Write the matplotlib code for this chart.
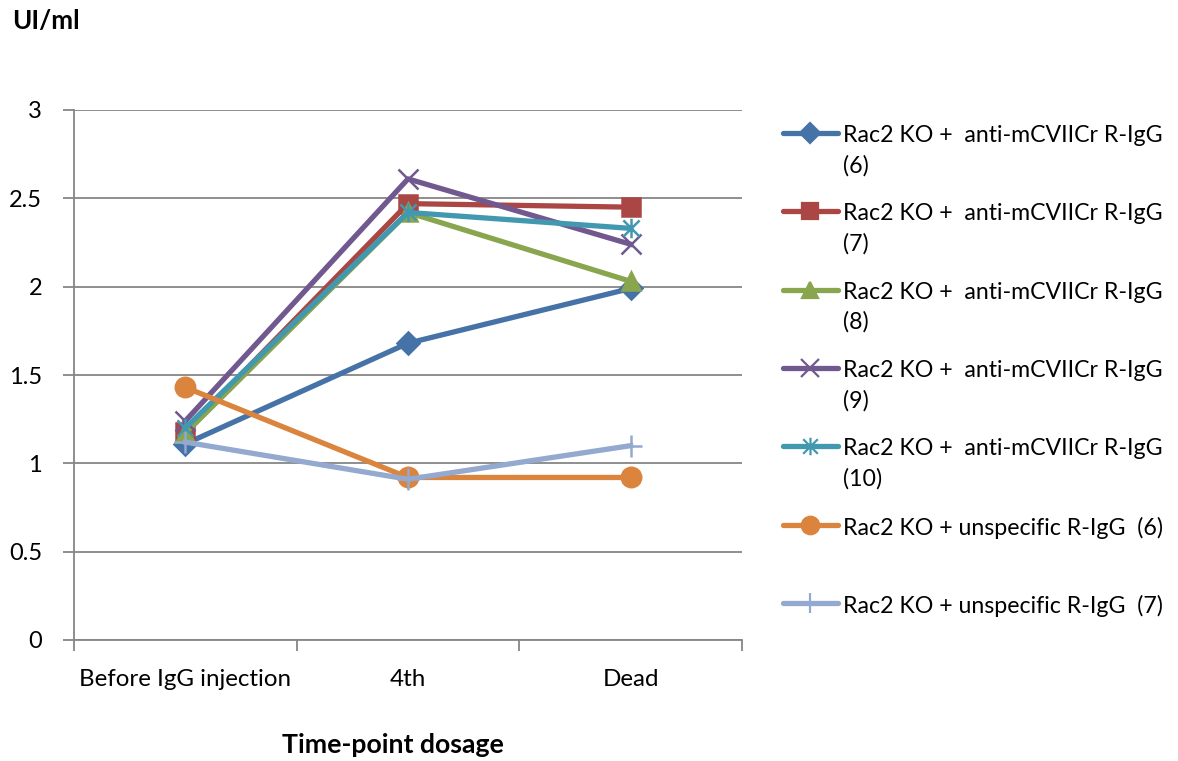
import numpy as np
import matplotlib
matplotlib.use("Agg")
import matplotlib.pyplot as plt
from matplotlib.path import Path
from matplotlib.lines import Line2D

plt.rcParams["font.family"] = ["Lato", "DejaVu Sans"]

# ---------------------------------------------------------------- data
timepoints = ["Before IgG injection", "4th", "Dead"]
anti_6 = [1.11, 1.68, 1.99]
anti_7 = [1.18, 2.47, 2.45]
anti_8 = [1.17, 2.42, 2.03]
anti_9 = [1.24, 2.61, 2.24]
anti_10 = [1.20, 2.42, 2.33]
unspec_6 = [1.43, 0.92, 0.92]
unspec_7 = [1.12, 0.91, 1.10]

labels = ["Rac2 KO +  anti-mCVIICr R-IgG\n(6)",
          "Rac2 KO +  anti-mCVIICr R-IgG\n(7)",
          "Rac2 KO +  anti-mCVIICr R-IgG\n(8)",
          "Rac2 KO +  anti-mCVIICr R-IgG\n(9)",
          "Rac2 KO +  anti-mCVIICr R-IgG\n(10)",
          "Rac2 KO + unspecific R-IgG  (6)",
          "Rac2 KO + unspecific R-IgG  (7)"]
yticks = [0, 0.5, 1, 1.5, 2, 2.5, 3]
ytick_labels = ["0", "0.5", "1", "1.5", "2", "2.5", "3"]

# ---------------------------------------------------------------- styles
star = Path([(-1, -1), (1, 1), (-1, 1), (1, -1), (0, -1.2), (0, 1.2)],
            [Path.MOVETO, Path.LINETO, Path.MOVETO, Path.LINETO, Path.MOVETO, Path.LINETO])
series = [anti_6, anti_7, anti_8, anti_9, anti_10, unspec_6, unspec_7]
colors = ["#4572A7", "#AA4643", "#89A54E", "#71588F", "#4198AF", "#DB843D", "#93A9CF"]
markers = ["D", "s", "^", "x", star, "o", "+"]
msizes = [11, 13, 13, 14, 14, 14, 16]
filled = [True, True, True, False, False, True, False]

fig = plt.figure(figsize=(11.78, 7.61), dpi=100)
ax = fig.add_axes([74/1178, 1 - 640/761, (742 - 74)/1178, (640 - 110)/761])

x = np.arange(len(timepoints))
for n, vals in enumerate(series):
    ax.plot(x, vals, color=colors[n], lw=3.8, marker=markers[n], markersize=msizes[n],
            markeredgewidth=1.8, markerfacecolor=colors[n] if filled[n] else "none",
            markeredgecolor=colors[n], solid_joinstyle="round", zorder=3)

ax.set_xlim(-0.5, 2.5)
ax.set_ylim(0, 3)
ax.set_yticks(yticks)
ax.set_yticklabels(ytick_labels)
ax.set_xticks(x)
ax.set_xticklabels(timepoints)
ax.set_xticks([-0.5, 0.5, 1.5, 2.5], minor=True)
ax.tick_params(axis="x", which="major", length=0, pad=21, labelsize=17.4)
ax.tick_params(axis="x", which="minor", length=8, width=1.3, color="#868686")
ax.tick_params(axis="y", length=8, width=1.3, color="#868686", pad=15, labelsize=17)
ax.grid(axis="y", color="#868686", lw=1.3, zorder=0)
for s in ["top", "right"]:
    ax.spines[s].set_visible(False)
for s in ["left", "bottom"]:
    ax.spines[s].set_color("#868686")
    ax.spines[s].set_linewidth(1.3)

fig.text(12/1178, 1 - 21/761, "UI/ml", fontsize=18.8, fontweight="bold", va="center", ha="left")
fig.text(393/1178, 1 - 745/761, "Time-point dosage", fontsize=19.2, fontweight="bold",
         va="center", ha="center")

# legend, Excel style: handle next to the first line of each label
for n, lab in enumerate(labels):
    yc = 1 - (133 + 78.3*n)/761
    fig.add_artist(Line2D([783/1178, 838/1178], [yc, yc], color=colors[n], lw=3.8,
                          solid_capstyle="round"))
    fig.add_artist(Line2D([810/1178], [yc], color=colors[n], marker=markers[n],
                          markersize=msizes[n]*0.9, markeredgewidth=1.6,
                          markerfacecolor=colors[n] if filled[n] else "none",
                          markeredgecolor=colors[n]))
    fig.text(843/1178, yc + 8/761, lab, fontsize=16.7, va="top", ha="left", linespacing=1.5)

fig.savefig("out.png", dpi=100)
